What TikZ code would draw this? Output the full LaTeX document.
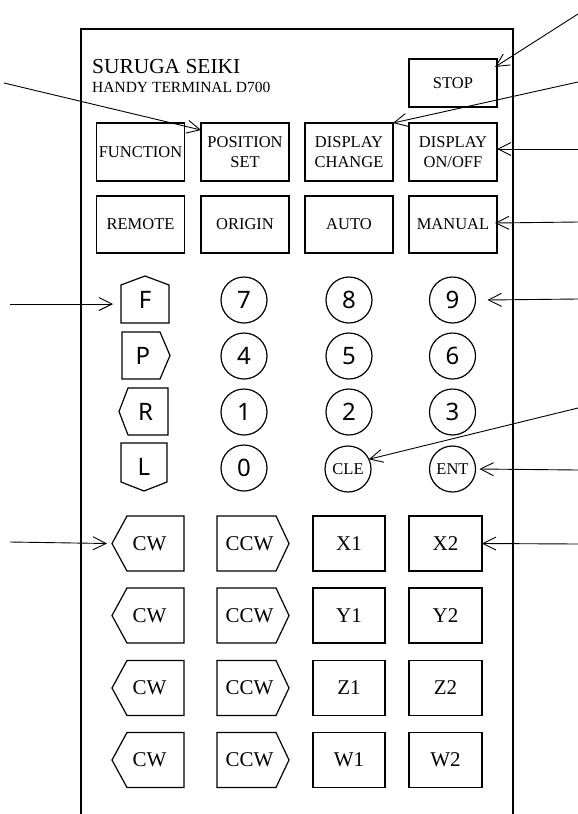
\documentclass[tikz,border=0pt]{standalone}
\usepackage{fontspec}
\setmainfont{Liberation Serif}
\newfontfamily\keysans{Noto Sans}
\usetikzlibrary{arrows.meta}
\begin{document}
\begin{tikzpicture}[x=1pt,y=-1pt,
  frameline/.style={line width=1.3pt},
  keybox/.style={draw,line width=1.2pt,rectangle,inner sep=0pt,outer sep=0pt,align=center,
    minimum width=88pt,font=\fontsize{16.5}{20}\selectfont},
  axbox/.style={draw,line width=1.2pt,rectangle,minimum width=72pt,minimum height=55pt,
    inner sep=0pt,outer sep=0pt,font=\fontsize{21}{24}\selectfont},
  rotkey/.style={inner sep=0pt,outer sep=0pt,minimum width=72pt,minimum height=55pt,
    font=\fontsize{21}{24}\selectfont},
  letterkey/.style={inner sep=0pt,outer sep=0pt,minimum width=48pt,minimum height=47pt,
    font=\keysans\fontsize{24}{28}\selectfont},
  numkey/.style={draw,circle,line width=1.2pt,minimum size=46pt,inner sep=0pt,outer sep=0pt,
    font=\keysans\fontsize{24}{28}\selectfont},
  wordkey/.style={numkey,font=\fontsize{16.5}{18}\selectfont},
  outline/.style={line width=1.2pt,line join=miter},
  pointer/.style={line width=0.9pt,-{Straight Barb[length=13pt,width=13pt]}}]

\useasboundingbox (0,0) rectangle (578,814);

% frame
\coordinate (fbl) at (81,814);
\coordinate (ftl) at (81,29);
\coordinate (ftr) at (513,29);
\coordinate (fbr) at (513,814);
\draw[frameline] (fbl) -- (ftl) -- (ftr) -- (fbr);

% titles
\node[anchor=base west,inner sep=0pt,font=\fontsize{21.4}{24}\selectfont] (brand) at (92,73) {SURUGA SEIKI};
\node[anchor=base west,inner sep=0pt,font=\fontsize{15.5}{18}\selectfont] (model) at (92,92) {HANDY TERMINAL D700};

% top keys
\node[keybox,minimum height=48pt] (stop) at (453,83) {STOP};
\node[keybox,minimum height=58pt] (func) at (140.5,152) {FUNCTION};
\node[keybox,minimum height=58pt] (pos) at (245,152) {POSITION\\SET};
\node[keybox,minimum height=58pt] (dchg) at (349,152) {DISPLAY\\CHANGE};
\node[keybox,minimum height=58pt] (donoff) at (453,152) {DISPLAY\\ON/OFF};
\node[keybox,minimum height=57pt] (remote) at (140.5,224.5) {REMOTE};
\node[keybox,minimum height=57pt] (origin) at (245,224.5) {ORIGIN};
\node[keybox,minimum height=57pt] (auto) at (349,224.5) {AUTO};
\node[keybox,minimum height=57pt] (manual) at (453,224.5) {MANUAL};

% letter keys
\node[letterkey] (kF) at (145,299.5) {F};
\node[letterkey] (kP) at (146,355.5) {P\hspace*{6pt}};
\node[letterkey,minimum width=49pt] (kR) at (143.5,411.5) {\hspace*{4pt}R};
\node[letterkey,minimum width=46pt,minimum height=48pt] (kL) at (144,467) {L};
\draw[outline] (kF.south west) -- ([yshift=-9pt]kF.north west) -- (kF.north)
  -- ([yshift=-9pt]kF.north east) -- (kF.south east) -- cycle;
\draw[outline] (kP.north west) -- ([xshift=-10pt]kP.north east) -- (kP.east)
  -- ([xshift=-10pt]kP.south east) -- (kP.south west) -- cycle;
\draw[outline] (kR.west) -- ([xshift=9pt]kR.north west) -- (kR.north east)
  -- (kR.south east) -- ([xshift=9pt]kR.south west) -- cycle;
\draw[outline] (kL.north west) -- (kL.north east) -- ([yshift=9pt]kL.south east)
  -- (kL.south) -- ([yshift=9pt]kL.south west) -- cycle;

% number keys
\node[numkey] (k7) at (244,300) {7};
\node[numkey] (k8) at (349,300) {8};
\node[numkey] (k9) at (452.5,300) {9};
\node[numkey] (k4) at (244,356) {4};
\node[numkey] (k5) at (349,356) {5};
\node[numkey] (k6) at (452.5,356) {6};
\node[numkey] (k1) at (244,412) {1};
\node[numkey] (k2) at (349,412) {2};
\node[numkey] (k3) at (452.5,412) {3};
\node[numkey] (k0) at (244,468) {0};
\node[wordkey] (cle) at (348,469) {CLE};
\node[wordkey] (ent) at (452.5,469) {ENT};

% axis keys
\foreach \i/\yy/\la/\lb in {1/543.5/X1/X2, 2/615.5/Y1/Y2, 3/688/Z1/Z2, 4/760/W1/W2}{
  \node[rotkey] (cw\i) at (148,\yy) {\hspace*{3pt}CW};
  \node[rotkey] (ccw\i) at (253,\yy) {CCW\hspace*{7pt}};
  \node[axbox] (a\i) at (349,\yy) {\la};
  \node[axbox,minimum width=73pt] (b\i) at (445.5,\yy) {\lb};
  \draw[outline] (cw\i.west) -- ([xshift=15pt]cw\i.north west) -- (cw\i.north east)
    -- (cw\i.south east) -- ([xshift=15pt]cw\i.south west) -- cycle;
  \draw[outline] (ccw\i.north west) -- ([xshift=-13pt]ccw\i.north east) -- (ccw\i.east)
    -- ([xshift=-13pt]ccw\i.south east) -- (ccw\i.south west) -- cycle;
}

% pointers
\coordinate (sStop) at (578,14);
\coordinate (sPos) at (4,83);
\coordinate (sDchg) at (578,82);
\coordinate (sDonoff) at (578,149);
\coordinate (sManual) at (578,222);
\coordinate (sF) at (10,304);
\coordinate (s9) at (578,299);
\coordinate (sCle) at (578,408);
\coordinate (sEnt) at (578,470);
\coordinate (sCw) at (10,542);
\coordinate (sX2) at (578,544);

\draw[pointer] (sStop) -- ([xshift=-2pt,yshift=-8pt]stop.north east);
\draw[pointer] (sPos) -- ([yshift=-7pt]pos.north west);
\draw[pointer] (sDchg) -- (dchg.north east);
\draw[pointer] (sDonoff) -- ([yshift=3pt]donoff.east);
\draw[pointer] (sManual) -- ([xshift=-2pt,yshift=1.5pt]manual.east);
\draw[pointer] (sF) -- ([xshift=-8pt,yshift=-4.5pt]kF.west);
\draw[pointer] (s9) -- ([xshift=12pt]k9.east);
\draw[pointer] (sCle) -- (cle.25);
\draw[pointer] (sEnt) -- ([xshift=4pt]ent.east);
\draw[pointer] (sCw) -- ([xshift=-5pt]cw1.west);
\draw[pointer] (sX2) -- (b1.east);
\end{tikzpicture}
\end{document}
